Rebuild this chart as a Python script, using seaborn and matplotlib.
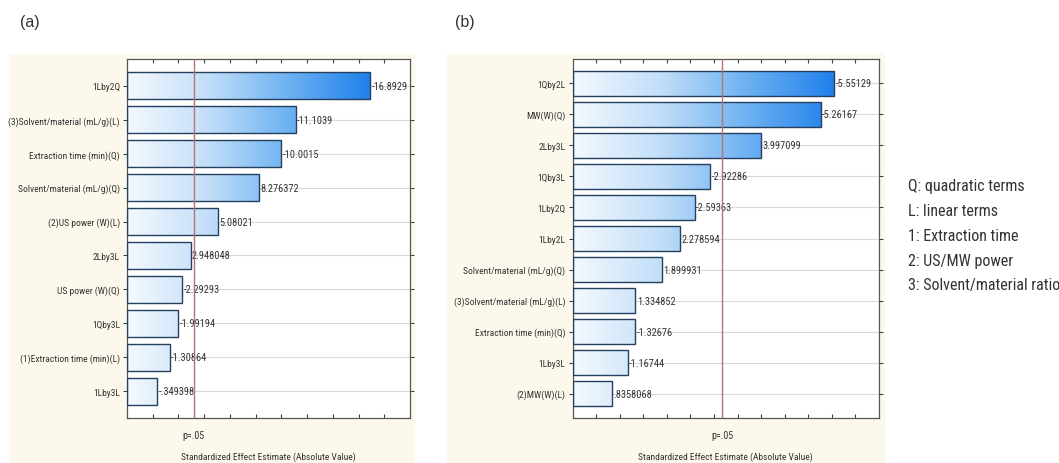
import numpy as np
import pandas as pd
import matplotlib
matplotlib.use('Agg')
import matplotlib.pyplot as plt
import seaborn as sns
from matplotlib import font_manager
from matplotlib.colors import LinearSegmentedColormap
from matplotlib.patches import Rectangle

# panel (a): ultrasound-assisted extraction
a_terms = ['1Lby2Q', '(3)Solvent/material (mL/g)(L)', 'Extraction time (min)(Q)',
           'Solvent/material (mL/g)(Q)', '(2)US power (W)(L)', '2Lby3L',
           'US power (W)(Q)', '1Qby3L', '(1)Extraction time (min)(L)', '1Lby3L']
a_effects = [-16.8929, -11.1039, -10.0015, 8.276372, 5.08021, 2.948048,
             -2.29293, -1.99194, -1.30864, -0.349398]
a_text = ['-16.8929', '-11.1039', '-10.0015', '8.276372', '5.08021', '2.948048',
          '-2.29293', '-1.99194', '-1.30864', '-.349398']

# panel (b): microwave-assisted extraction
b_terms = ['1Qby2L', 'MW(W)(Q)', '2Lby3L', '1Qby3L', '1Lby2Q', '1Lby2L',
           'Solvent/material (mL/g)(Q)', '(3)Solvent/material (mL/g)(L)',
           'Extraction time (min)(Q)', '1Lby3L', '(2)MW(W)(L)']
b_effects = [-5.55129, -5.26167, 3.997099, -2.92286, -2.59363, 2.278594,
             1.899931, 1.334852, -1.32676, -1.16744, 0.8358068]
b_text = ['-5.55129', '-5.26167', '3.997099', '-2.92286', '-2.59363', '2.278594',
          '1.899931', '1.334852', '-1.32676', '-1.16744', '.8358068']

p_crit = 3.18
notes = ['Q: quadratic terms', 'L: linear terms', '1: Extraction time',
         '2: US/MW power', '3: Solvent/material ratio']

sns.set_style('white')
installed = {f.name for f in font_manager.fontManager.ttflist}
narrow = [f for f in ['Liberation Sans Narrow', 'DejaVu Sans Condensed',
                      'Roboto Condensed', 'Arial Narrow', 'Liberation Sans']
          if f in installed]
plt.rcParams['font.family'] = narrow[:1] + ['DejaVu Sans']

CREAM = '#fcf9ec'
TXT = '#333333'
grad = LinearSegmentedColormap.from_list('g', ['#f4f9ff', '#c2def8', '#6cb1f2', '#1f80ea'])


def pareto(ax, terms, effects, texts, xmin, xmax, step):
    df = pd.DataFrame({'term': terms, 'effect': np.abs(effects)})
    sns.barplot(data=df, x='effect', y='term', orient='h', ax=ax, width=0.8,
                color='white', edgecolor='#24405f', linewidth=1.0, zorder=3)
    n = len(terms)
    gmax = df['effect'].max()
    img = np.linspace(0, 1, 256).reshape(1, -1)
    for p, v in zip(ax.patches, df['effect']):
        # bars grow from the left edge of the axis, as in the original software
        p.set_x(xmin)
        p.set_width(v - xmin)
        p.set_facecolor('none')
        y0, h = p.get_y(), p.get_height()
        im = ax.imshow(img, cmap=grad, aspect='auto', zorder=2,
                       extent=(xmin, gmax, y0 + h, y0), interpolation='bilinear')
        im.set_clip_path(p)
    for i, (v, t) in enumerate(zip(df['effect'], texts)):
        ax.annotate(t, (v, i), xytext=(1, 0), textcoords='offset points',
                    ha='left', va='center', fontsize=7.5, color=TXT, zorder=4)
    ax.axvline(p_crit, color='#b87272', lw=1.0, zorder=5)
    ax.set_xlim(xmin, xmax)
    ax.set_ylim(n - 0.5 + 0.29, -0.79)
    ax.set_xticks(np.arange(xmin + step, xmax, step))
    ax.set_xticklabels([])
    ax.tick_params(axis='x', direction='in', top=True, bottom=True, length=3,
                   width=0.8, color='#444444')
    ax.tick_params(axis='y', left=True, right=True, direction='out', length=3,
                   width=0.8, color='#444444', labelsize=6.8, labelcolor=TXT, pad=2)
    ax.grid(axis='y', color='#dadada', lw=0.8, zorder=0)
    ax.set_axisbelow(True)
    ax.set_facecolor('white')
    for s in ax.spines.values():
        s.set_color('#555555')
        s.set_linewidth(0.9)
    ax.set_ylabel('')
    ax.set_xlabel('')
    ax.text(p_crit, -0.047, 'p=.05', transform=ax.get_xaxis_transform(),
            ha='center', va='center', fontsize=7.2, color=TXT)
    ax.text(0.5, -0.107, 'Standardized Effect Estimate (Absolute Value)',
            transform=ax.transAxes, ha='center', va='center', fontsize=6.8, color=TXT)


W, H = 1059, 464
fig = plt.figure(figsize=(W / 100, H / 100), dpi=100)
fig.patches.append(Rectangle((9 / W, 0), (414 - 9) / W, 1 - 55 / H,
                             transform=fig.transFigure, color=CREAM, zorder=-5))
fig.patches.append(Rectangle((447 / W, 0), (884 - 447) / W, 1 - 55 / H,
                             transform=fig.transFigure, color=CREAM, zorder=-5))

ax_a = fig.add_axes([127 / W, 1 - 419 / H, (410 - 127) / W, (419 - 60) / H])
ax_b = fig.add_axes([572.5 / W, 1 - 419 / H, (879 - 572.5) / W, (419 - 60) / H])

pareto(ax_a, a_terms, a_effects, a_text, -2, 20, 2)
pareto(ax_b, b_terms, b_effects, b_text, 0, 6.5, 0.5)

fig.text(20 / W, 1 - 22 / H, '(a)', fontsize=11.5, color=TXT, va='center', ha='left',
         family=['Liberation Sans', 'DejaVu Sans'])
fig.text(455 / W, 1 - 22 / H, '(b)', fontsize=11.5, color=TXT, va='center', ha='left',
         family=['Liberation Sans', 'DejaVu Sans'])

for i, s in enumerate(notes):
    fig.text(908 / W, 1 - (187 + 24.7 * i) / H, s, fontsize=11.5, color=TXT,
             va='center', ha='left')

fig.savefig('out.png', dpi=100)
